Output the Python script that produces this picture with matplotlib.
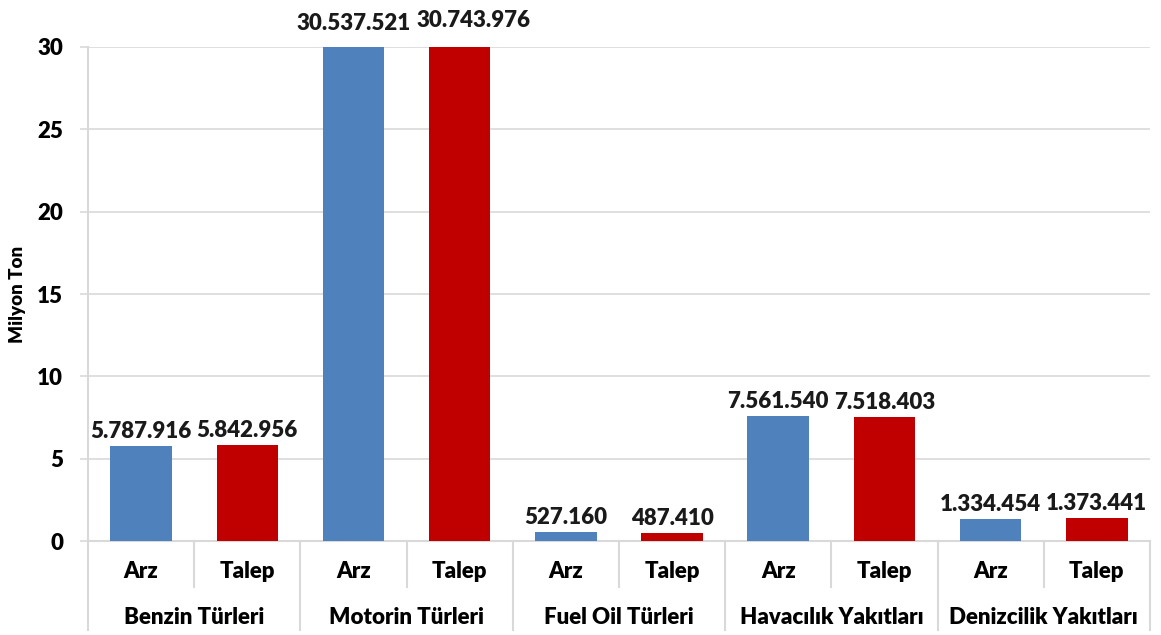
import matplotlib.pyplot as plt
import matplotlib.transforms as mtransforms
import numpy as np

plt.rcParams['font.family'] = ['Lato', 'DejaVu Sans']

groups = ["Benzin Türleri", "Motorin Türleri", "Fuel Oil Türleri",
          "Havacılık Yakıtları", "Denizcilik Yakıtları"]
sub = ["Arz", "Talep"]
arz = [5787916, 30537521, 527160, 7561540, 1334454]
talep = [5842956, 30743976, 487410, 7518403, 1373441]

blue = "#4F81BD"
red = "#C00000"
grid_c = "#D9D9D9"
ymax = 30
W = "heavy"


def fmt(v):
    return f"{v:,}".replace(",", ".")


fig = plt.figure(figsize=(11.61, 6.35), dpi=100)
ax = fig.add_axes([0.0758, 0.148, 0.9147, 0.778])

vals, cols, raw = [], [], []
for a, t in zip(arz, talep):
    vals += [a / 1e6, t / 1e6]
    raw += [a, t]
    cols += [blue, red]
x = np.arange(len(vals))
ax.bar(x, vals, width=0.58, color=cols, zorder=3)

# labels sit at the real value, even where the bar is cut at 30;
# the second motorin label is nudged right so the two don't collide
for xi, v, r in zip(x, vals, raw):
    dx = 10 if v > ymax and xi % 2 == 1 else 0
    ax.annotate(fmt(r), (xi, v), xytext=(dx, 3),
                textcoords="offset points", ha="center", va="bottom",
                fontsize=16, fontweight=W, color="#1a1a1a",
                annotation_clip=False)

ax.set_ylim(0, ymax)
ax.set_xlim(-0.5, len(vals) - 0.5)
ax.set_yticks(range(0, 31, 5))
ax.tick_params(axis="y", labelsize=16, length=6, color=grid_c, width=1.2, pad=12)
for lab in ax.get_yticklabels():
    lab.set_fontweight(W)
ax.set_xticks([])
ax.grid(axis="y", color=grid_c, linewidth=1.2, zorder=0)
for s in ["top", "right"]:
    ax.spines[s].set_visible(False)
for s in ["left", "bottom"]:
    ax.spines[s].set_color(grid_c)
    ax.spines[s].set_linewidth(1.5)
ax.set_ylabel("Milyon Ton", fontsize=13.5, fontweight=W)
ax.yaxis.set_label_coords(-0.058, 0.5)

# two-level category axis
tr = mtransforms.blended_transform_factory(ax.transData, ax.transAxes)
for i in range(len(vals)):
    ax.text(i, -0.061, sub[i % 2], transform=tr, ha="center", va="center",
            fontsize=16, fontweight=W)
for g, name in enumerate(groups):
    ax.text(2 * g + 0.5, -0.155, name, transform=tr, ha="center", va="center",
            fontsize=16, fontweight=W)
for b in np.arange(-0.5, len(vals), 1.0):
    long_line = int(round(b + 0.5)) % 2 == 0
    y1 = -0.18 if long_line else -0.093
    ax.plot([b, b], [0, y1], transform=tr, color=grid_c, linewidth=1.5,
            clip_on=False)

fig.savefig("out.png", dpi=100)
